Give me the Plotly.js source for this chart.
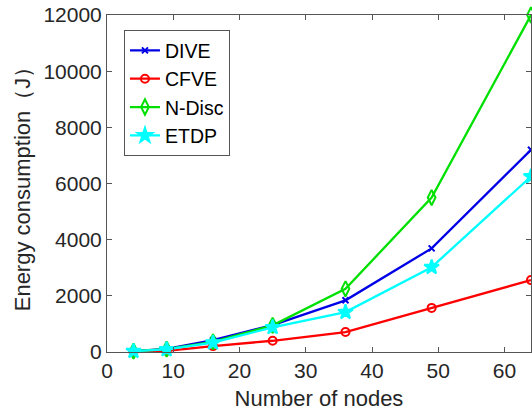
<!DOCTYPE html>
<html>
<head>
<meta charset="utf-8">
<script src="https://cdn.plot.ly/plotly-3.0.1.min.js"></script>
<style>html,body{margin:0;padding:0;background:#fff;}#chart{width:532px;height:416px;}</style>
</head>
<body>
<div id="chart"></div>
<script>
const nodes = [4, 9, 16, 25, 36, 49, 64];
const dive  = [30, 110, 420, 960, 1840, 3690, 7200];
const cfve  = [10, 40, 210, 400, 710, 1570, 2560];
const ndisc = [30, 100, 360, 950, 2250, 5500, 12000];
const etdp  = [30, 90, 330, 880, 1420, 3020, 6250];
const seriesNames = ['DIVE', 'CFVE', 'N-Disc', 'ETDP'];
const xTicks = [0, 10, 20, 30, 40, 50, 60];
const yTicks = [0, 2000, 4000, 6000, 8000, 10000, 12000];

const colors = ['#0000e6', '#ff0000', '#00e000', '#00ffff'];
const symbols = ['x-thin-open', 'circle-open', 'diamond-tall-open', 'star'];
const sizes = [6, 8, 11, 11];
const data = [dive, cfve, ndisc, etdp];

const traces = data.map((ys, i) => ({
  x: nodes, y: ys, name: seriesNames[i], type: 'scatter', mode: 'lines+markers',
  cliponaxis: false,
  line: {color: colors[i], width: 2.3},
  marker: {symbol: symbols[i], size: sizes[i], color: colors[i], line: {color: colors[i], width: 2}}
}));

const FONT = 'Liberation Sans, Arial, sans-serif';
const axisCommon = {
  showline: true, linecolor: '#555', linewidth: 1, mirror: 'ticks',
  ticks: 'inside', ticklen: 5, tickcolor: '#555', showgrid: false, zeroline: false,
  tickfont: {family: FONT, size: 21, color: '#262626'}
};

const layout = {
  width: 532, height: 416,
  margin: {l: 107, r: 1, t: 15, b: 64},
  paper_bgcolor: '#fff', plot_bgcolor: '#fff',
  showlegend: true,
  legend: {
    x: 0.04, y: 0.955, xanchor: 'left', yanchor: 'top',
    bgcolor: '#fff', bordercolor: '#555', borderwidth: 1,
    font: {family: FONT, size: 19.5, color: '#000'},
    tracegroupgap: 0
  },
  xaxis: Object.assign({}, axisCommon, {
    range: [0, 64], tickvals: xTicks, ticktext: xTicks.map(String),
    title: {text: 'Number of nodes', standoff: 9, font: {family: FONT, size: 22, color: '#262626'}}
  }),
  yaxis: Object.assign({}, axisCommon, {
    range: [0, 12000], tickvals: yTicks, ticktext: yTicks.map(String),
    title: {text: 'Energy consumption（J）', standoff: 6, font: {family: FONT, size: 22, color: '#262626'}}
  })
};

Plotly.newPlot('chart', traces, layout, {displayModeBar: false, staticPlot: true});
</script>
</body>
</html>
